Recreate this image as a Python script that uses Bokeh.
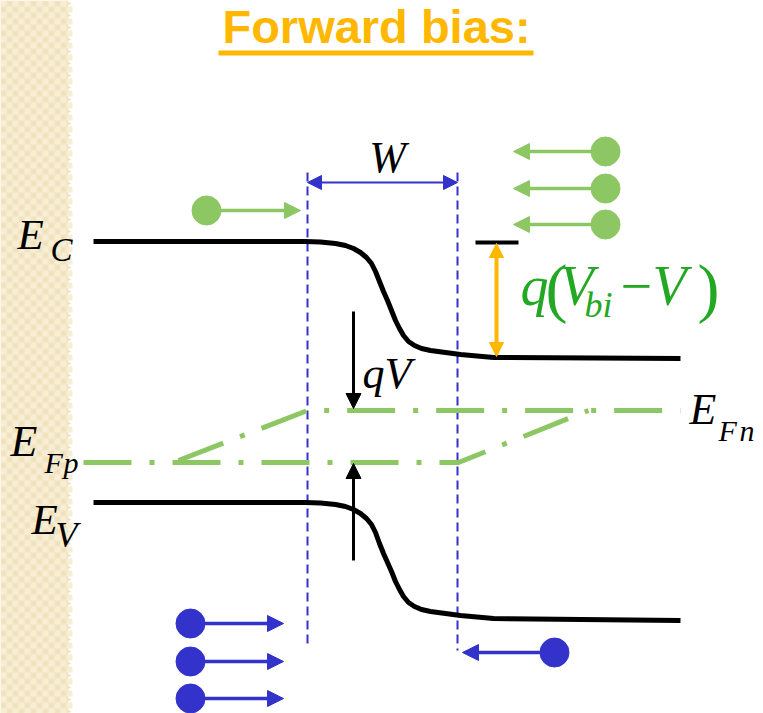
import numpy as np
from bokeh.plotting import figure
from bokeh.models import Range1d, Arrow, NormalHead
from bokeh.core.properties import value
from bokeh.embed import file_html
from bokeh.resources import INLINE

# ---- band diagram geometry (diagram units, y grows downward) ----
ec_x = [93, 305, 320, 335, 345, 353, 360, 366, 371, 375, 379, 383, 387, 391, 395, 399,
        403, 408, 414, 421, 430, 460, 493, 680]
ec_y = [241, 241, 241.5, 243, 245, 248, 252, 257, 263, 271, 281, 291, 300, 310, 320, 328,
        335, 341, 345, 348, 350, 354, 357, 358]
ev_x = [93, 305, 320, 335, 345, 353, 360, 366, 371, 375, 379, 383, 387, 391, 395, 399,
        403, 408, 414, 421, 430, 460, 493, 680]
ev_y = [502, 502, 502.5, 504, 506, 509, 513, 518, 524, 532, 543, 553, 562, 571, 581, 589,
        596, 602, 606, 609, 611, 615, 618, 620]

# quasi-Fermi levels
efn_x = [178, 307, 680]
efn_y = [460, 410, 410]
efp_x = [83, 458, 588]
efp_y = [462, 462, 410]

# depletion region edges
depl_x = [307, 457]
depl_top = [172, 172]
depl_bottom = [643, 650]
w_arrow_y = 182

# carriers: start (dot) and arrow tip
e_right_x = [605, 605, 605]
e_right_y = [151, 188, 224]
e_right_tip = [513, 513, 513]
e_left_x = [206]
e_left_y = [210]
e_left_tip = [300]
h_left_x = [190, 190, 190]
h_left_y = [623, 661, 698]
h_left_tip = [283, 283, 283]
h_right_x = [554]
h_right_y = [652]
h_right_tip = [462]

# barrier height q(Vbi - V)
barrier_x = 496
barrier_top = 243
barrier_bottom = 356
barrier_cap_x = [475, 518]

# applied bias qV arrows
qv_x = 353
qv_down = [311, 408]
qv_up = [560, 463]

GREEN = "#8DC763"
TEXT_GREEN = "#22A822"
BLUE = "#3333CC"
ORANGE = "#FFB700"
SERIF = value("Liberation Serif")
BASELINE_SHIFT = 0.37  # em, moves the drawn baseline onto the given y

p = figure(width=763, height=713, x_range=Range1d(0, 763), y_range=Range1d(713, 0),
           toolbar_location=None, output_backend="svg", min_border=0,
           x_axis_location=None, y_axis_location=None)
p.grid.visible = False
p.outline_line_color = None
p.background_fill_color = "white"
p.border_fill_color = "white"

# textured beige strip on the left
p.quad(left=0, right=68, bottom=713, top=0, fill_color="#F2E4C0", line_color=None)
cell = 6
gx, gy = np.meshgrid(np.arange(0, 68, cell), np.arange(0, 713, cell))
mask = ((gx // cell + gy // cell) % 2) == 0
p.rect(x=(gx[mask] + cell / 2), y=(gy[mask] + cell / 2), width=cell, height=cell,
       fill_color="#F8EED5", line_color=None)
p.rect(x=(gx[~mask] + cell / 2), y=(gy[~mask] + cell / 2), width=2, height=2,
       fill_color="#ECDDB6", line_color=None)


def label(x, y, s, size, style="italic", color="black", align="left", font=SERIF):
    px = float(size.replace("px", ""))
    p.text(x=[x], y=[y - BASELINE_SHIFT * px], text=[s], text_align=align,
           text_baseline="alphabetic", text_font=font, text_font_style=style,
           text_font_size=size, text_color=color)


# title
label(376, 43, "Forward bias:", "47px", style="bold", color=ORANGE, align="center",
      font=value("Liberation Sans"))
p.line(x=[218, 533], y=[52.5, 52.5], line_width=5, line_color=ORANGE)

# depletion edges
for xx, t, b in zip(depl_x, depl_top, depl_bottom):
    p.line(x=[xx, xx], y=[t, b], line_color=BLUE, line_width=2, line_dash="9 5")
p.add_layout(Arrow(start=NormalHead(size=14, fill_color=BLUE, line_color=BLUE),
                   end=NormalHead(size=14, fill_color=BLUE, line_color=BLUE),
                   x_start=depl_x[0], y_start=w_arrow_y, x_end=depl_x[1], y_end=w_arrow_y,
                   line_color=BLUE, line_width=2))
label(387, 173, "W", "44px", align="center")

# quasi-Fermi levels
p.line(x=efn_x, y=efn_y, line_color=GREEN, line_width=5, line_dash="48 18 5 18")
p.line(x=efp_x, y=efp_y, line_color=GREEN, line_width=5, line_dash="48 18 5 18")

# band edges
p.line(x=ec_x, y=ec_y, line_color="black", line_width=5, line_join="round")
p.line(x=ev_x, y=ev_y, line_color="black", line_width=5, line_join="round")

# barrier arrow
p.line(x=barrier_cap_x, y=[barrier_top - 1, barrier_top - 1], line_color="black", line_width=4)
p.add_layout(Arrow(start=NormalHead(size=14, fill_color=ORANGE, line_color=ORANGE),
                   end=NormalHead(size=14, fill_color=ORANGE, line_color=ORANGE),
                   x_start=barrier_x, y_start=barrier_top, x_end=barrier_x, y_end=barrier_bottom,
                   line_color=ORANGE, line_width=4))

# qV arrows
for ys in (qv_down, qv_up):
    p.add_layout(Arrow(end=NormalHead(size=15, fill_color="black", line_color="black"),
                       x_start=qv_x, y_start=ys[0], x_end=qv_x, y_end=ys[1],
                       line_color="black", line_width=3))


# carriers
def carriers(xs, ys, tips, color):
    for x0, y0, xt in zip(xs, ys, tips):
        p.add_layout(Arrow(end=NormalHead(size=16, fill_color=color, line_color=color),
                           x_start=x0, y_start=y0, x_end=xt, y_end=y0,
                           line_color=color, line_width=3.5))
    p.scatter(x=xs, y=ys, marker="circle", size=29, fill_color=color, line_color=color)


carriers(e_right_x, e_right_y, e_right_tip, GREEN)
carriers(e_left_x, e_left_y, e_left_tip, GREEN)
carriers(h_left_x, h_left_y, h_left_tip, BLUE)
carriers(h_right_x, h_right_y, h_right_tip, BLUE)

# band and level labels
label(17, 250, "E", "43px")
label(50, 262, "C", "33px")
label(10, 457, "E", "44px")
label(44, 473, "F", "30px")
label(63, 473, "p", "30px")
label(31, 535, "E", "43px")
label(55, 548, "V", "36px")
label(689, 425, "E", "44px")
label(718, 441, "F", "30px")
label(739, 441, "n", "30px")
label(362, 389, "qV", "44px")

# q(Vbi - V)
label(520, 306, "q", "56px", color=TEXT_GREEN)
label(545, 311, "(", "66px", style="normal", color=TEXT_GREEN)
label(559, 306, "V", "56px", color=TEXT_GREEN)
label(584, 318, "bi", "36px", color=TEXT_GREEN)
label(620, 306, "\u2212", "56px", style="normal", color=TEXT_GREEN)
label(652, 306, "V", "56px", color=TEXT_GREEN)
label(697, 311, ")", "66px", style="normal", color=TEXT_GREEN)

open("out.html", "w").write(file_html(p, INLINE))
